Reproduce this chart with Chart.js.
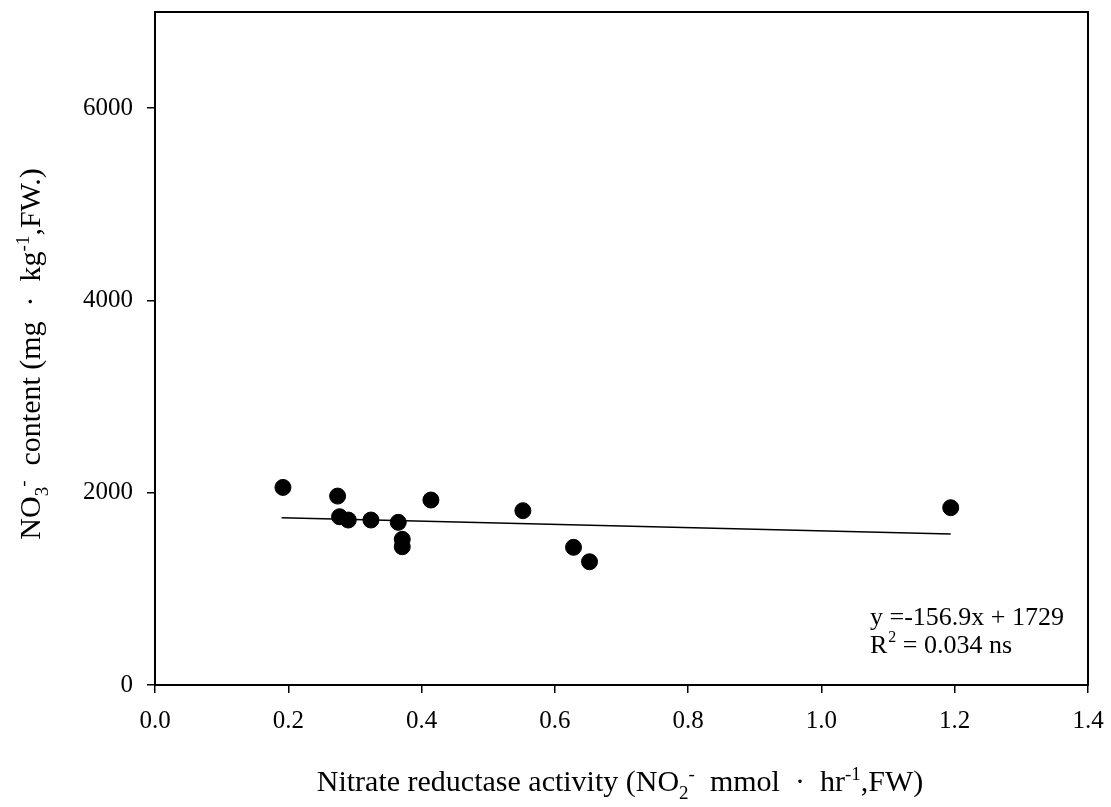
<!DOCTYPE html>
<html>
<head>
<meta charset="utf-8">
<script src="https://cdn.jsdelivr.net/npm/chart.js@4"></script>
<style>
  html, body { margin: 0; padding: 0; background: #fff; }
  #wrap { width: 1111px; height: 807px; }
</style>
</head>
<body>
<div id="wrap"><canvas id="scatter-chart" width="1111" height="807"></canvas></div>
<script>
// nitrate reductase activity (x) vs NO3- content (y)
const activity = [0.192, 0.274, 0.277, 0.290, 0.324, 0.365, 0.371, 0.371, 0.414, 0.552, 0.628, 0.652, 1.194];
const nitrate  = [2055, 1965, 1750, 1716, 1716, 1692, 1515, 1438, 1924, 1813, 1432, 1282, 1844];

// fitted line ends
const fitX = [0.19, 1.194];
const fitY = [1740, 1570];

const xTicks = [0, 0.2, 0.4, 0.6, 0.8, 1.0, 1.2, 1.4];
const yTicks = [0, 2000, 4000, 6000];

const fontName = '"Liberation Serif", "Times New Roman", serif';

// draw a line of text with sub/superscripts, centred on cx
function richText(ctx, parts, cx, cy, size) {
    const small = Math.round(size * 0.62);
    let w = 0;
    parts.forEach(p => {
        ctx.font = (p.s ? small : size) + 'px ' + fontName;
        w += ctx.measureText(p.t).width;
    });
    let x = cx - w / 2;
    parts.forEach(p => {
        ctx.font = (p.s ? small : size) + 'px ' + fontName;
        let dy = 0;
        if (p.s === 'sub') dy = size * 0.28;
        if (p.s === 'sup') dy = -size * 0.36;
        ctx.fillText(p.t, x, cy + dy);
        x += ctx.measureText(p.t).width;
    });
}

const extras = {
    id: 'extras',
    afterDraw(chart) {
        const ctx = chart.ctx;
        const a = chart.chartArea;
        ctx.save();
        // frame
        ctx.strokeStyle = '#000';
        ctx.lineWidth = 2;
        ctx.strokeRect(a.left, a.top, a.right - a.left, a.bottom - a.top);

        ctx.fillStyle = '#000';
        ctx.textBaseline = 'alphabetic';
        ctx.textAlign = 'left';

        // x title
        richText(ctx, [
            {t: 'Nitrate reductase activity (NO'}, {t: '2', s: 'sub'}, {t: '-', s: 'sup'},
            {t: '  mmol  \u00b7  hr'}, {t: '-1', s: 'sup'}, {t: ',FW)'}
        ], 620, 791, 30);

        // y title
        ctx.save();
        ctx.translate(40, 354);
        ctx.rotate(-Math.PI / 2);
        richText(ctx, [
            {t: 'NO'}, {t: '3', s: 'sub'}, {t: '-', s: 'sup'},
            {t: '  content (mg  \u00b7  kg'}, {t: '-1', s: 'sup'}, {t: ',FW.)'}
        ], 0, 0, 30);
        ctx.restore();

        // equation
        ctx.font = '26px ' + fontName;
        ctx.fillText('y =-156.9x + 1729', 870, 625);
        ctx.fillText('R', 870, 653);
        const rw = ctx.measureText('R').width;
        ctx.font = '16px ' + fontName;
        ctx.fillText('2', 870 + rw + 1, 642);
        ctx.font = '26px ' + fontName;
        ctx.fillText(' = 0.034 ns', 870 + rw + 9, 653);
        ctx.restore();
    }
};

new Chart(document.querySelector('#scatter-chart').getContext('2d'), {
    type: 'scatter',
    data: {
        datasets: [
            {
                data: activity.map((x, i) => ({x: x, y: nitrate[i]})),
                backgroundColor: '#000',
                borderColor: '#000',
                pointRadius: 8,
                pointHoverRadius: 8
            },
            {
                type: 'line',
                data: fitX.map((x, i) => ({x: x, y: fitY[i]})),
                borderColor: '#000',
                borderWidth: 1.5,
                pointRadius: 0,
                fill: false
            }
        ]
    },
    options: {
        responsive: false,
        animation: false,
        layout: { padding: { left: 0, top: 12, right: 23, bottom: 0 } },
        plugins: { legend: { display: false }, tooltip: { enabled: false } },
        scales: {
            x: {
                type: 'linear',
                min: 0, max: 1.4,
                afterFit: scale => {
                    scale.height = 122;
                    scale.paddingLeft = 0;
                    scale.paddingRight = 0;
                },
                afterBuildTicks: scale => { scale.ticks = xTicks.map(v => ({value: v})); },
                grid: { drawOnChartArea: false, drawTicks: true, tickLength: 8, color: '#000', lineWidth: 1.5 },
                border: { color: '#000', width: 2 },
                ticks: {
                    padding: 13,
                    color: '#000',
                    maxRotation: 0,
                    font: { family: fontName, size: 25 },
                    callback: v => Number(v).toFixed(1)
                }
            },
            y: {
                min: 0, max: 7000,
                afterFit: scale => {
                    scale.width = 155;
                    scale.paddingTop = 0;
                    scale.paddingBottom = 0;
                },
                afterBuildTicks: scale => { scale.ticks = yTicks.map(v => ({value: v})); },
                grid: { drawOnChartArea: false, drawTicks: true, tickLength: 8, color: '#000', lineWidth: 1.5 },
                border: { color: '#000', width: 2 },
                ticks: {
                    padding: 14,
                    color: '#000',
                    font: { family: fontName, size: 25 },
                    callback: v => String(v)
                }
            }
        }
    },
    plugins: [extras]
});
</script>
</body>
</html>
